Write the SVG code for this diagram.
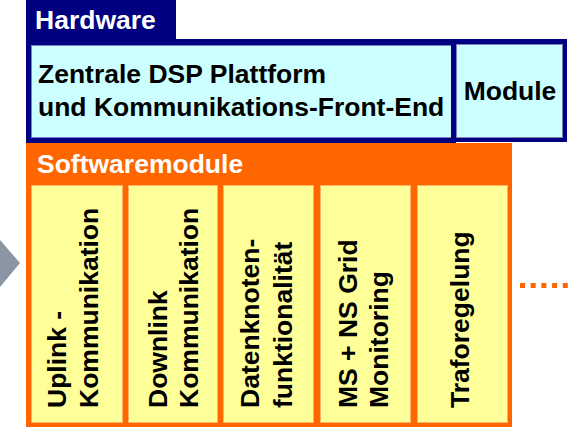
<svg xmlns="http://www.w3.org/2000/svg" width="569" height="427" viewBox="0 0 569 427">
  <style>
    .t { font-family: "Liberation Sans", Arial, sans-serif; font-weight: bold; font-size: 26.5px; }
    .w { fill: #FFFFFF; }
    .k { fill: #000000; }
    .navy { fill: #000080; }
    .cyan { fill: #CCFFFF; stroke: #7F7FC0; stroke-width: 1; }
    .orange { fill: #FF6600; }
    .yellow { fill: #FFFF99; stroke: #FFB266; stroke-width: 1; }
  </style>
  <rect width="569" height="427" fill="#FFFFFF"/>

  <g id="decorations">
    <polygon points="0,240 20,263 0,287" fill="#8C95A3"/>
  </g>

  <g id="connectors">
    <line x1="520" y1="285.5" x2="569" y2="285.5" stroke="#FF6600" stroke-width="5" stroke-dasharray="5 5.7"/>
  </g>

  <g id="hardware-tab">
    <rect class="navy" x="26" y="0" width="150" height="40"/>
    <text class="t w" x="35" y="29">Hardware</text>
  </g>

  <g id="hw-platform">
    <rect class="navy" x="26" y="39" width="430" height="104"/>
    <rect class="cyan" x="31.5" y="45.5" width="420" height="92"/>
    <text class="t k" x="38" y="83">Zentrale DSP Plattform</text>
    <text class="t k" x="38" y="116">und Kommunikations-Front-End</text>
  </g>

  <g id="hw-module">
    <rect class="navy" x="451" y="39" width="116" height="103"/>
    <rect class="cyan" x="456.5" y="44.5" width="106" height="93"/>
    <text class="t k" x="510" y="100" text-anchor="middle">Module</text>
  </g>

  <g id="sw-container">
    <rect class="orange" x="26" y="143" width="486" height="284"/>
    <text class="t w" x="37" y="173">Softwaremodule</text>
  </g>

  <g id="sw-uplink">
    <rect class="yellow" x="31.5" y="185.5" width="91" height="237"/>
    <text class="t k" transform="translate(66,408) rotate(-90)">Uplink -</text>
    <text class="t k" transform="translate(98,408) rotate(-90)">Kommunikation</text>
  </g>

  <g id="sw-downlink">
    <rect class="yellow" x="128.5" y="185.5" width="89" height="237"/>
    <text class="t k" transform="translate(167,408) rotate(-90)">Downlink</text>
    <text class="t k" transform="translate(198,408) rotate(-90)">Kommunikation</text>
  </g>

  <g id="sw-datenknoten">
    <rect class="yellow" x="223.5" y="185.5" width="90" height="237"/>
    <text class="t k" transform="translate(259,408) rotate(-90)">Datenknoten-</text>
    <text class="t k" transform="translate(292,408) rotate(-90)">funktionalität</text>
  </g>

  <g id="sw-grid-monitoring">
    <rect class="yellow" x="320.5" y="185.5" width="90" height="237"/>
    <text class="t k" transform="translate(357,408) rotate(-90)">MS + NS Grid</text>
    <text class="t k" transform="translate(388,408) rotate(-90)">Monitoring</text>
  </g>

  <g id="sw-traforegelung">
    <rect class="yellow" x="417.5" y="185.5" width="90" height="237"/>
    <text class="t k" transform="translate(469,408) rotate(-90)">Traforegelung</text>
  </g>
</svg>
